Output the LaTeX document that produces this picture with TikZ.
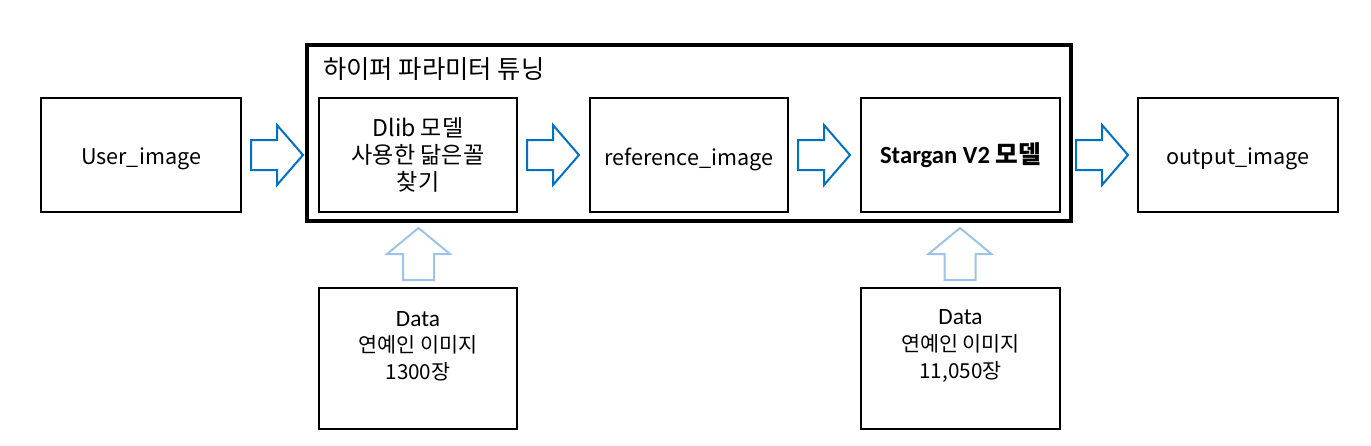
\documentclass[tikz,border=0pt]{standalone}
\usepackage{fontspec}
\setmainfont{Noto Sans CJK KR}
\newfontfamily\calfont{Carlito}
\definecolor{rblue}{HTML}{0070C0}
\definecolor{lblue}{HTML}{9DC3E6}
\newcommand{\lowr}[2]{\raisebox{-#1}[\height][\depth]{#2}}
\begin{document}
\begin{tikzpicture}[x=0.75pt,y=-0.75pt,
  box/.style={draw=black,line width=1.1pt,rectangle,inner sep=0pt,align=center,
    minimum width=148.5pt,minimum height=85.5pt},
  big/.style={font=\fontsize{16.2pt}{22pt}\selectfont},
  mid/.style={font=\fontsize{17.3pt}{21.4pt}\selectfont},
  dat/.style={font=\fontsize{15.5pt}{20pt}\selectfont,align=center,inner sep=0pt},
  rarr/.pic={\draw[rblue,line width=1.5pt,fill=white,line join=miter]
     (0,-15)--(26,-15)--(26,-30)--(52,0)--(26,30)--(26,15)--(0,15)--cycle;},
  uarr/.pic={\draw[lblue,line width=1.5pt,fill=white,line join=miter]
     (-15.5,0)--(-15.5,-26)--(-31.5,-26)--(0,-52)--(31.5,-26)--(15.5,-26)--(15.5,0)--cycle;}
]
\useasboundingbox (0,0) rectangle (1371,446);
\node[draw=black,line width=3pt,minimum width=573pt,minimum height=132pt,inner sep=0pt] (tune) at (689,133) {};
\node[anchor=west,font=\fontsize{19pt}{22pt}\selectfont,inner sep=0pt] (title) at (323,69) {하이퍼 파라미터 튜닝};
\node[box,big,minimum width=150pt] (user) at (141,155) {\lowr{3pt}{User\_image}};
\node[box,mid] (dlib) at (418,155) {\lowr{2pt}{\begin{tabular}{@{}c@{}}Dlib 모델\\[-1pt]사용한 닮은꼴\\[-1pt]찾기\end{tabular}}};
\node[box,big] (ref) at (689,155) {\lowr{3pt}{reference\_image}};
\node[box,font=\fontsize{18.5pt}{22pt}\selectfont,minimum width=149.25pt] (star) at (960.5,155) {{\calfont\bfseries Stargan V2} \bfseries 모델};
\node[box,big,minimum width=150pt] (out) at (1238,155) {\lowr{3pt}{output\_image}};
\node[box,minimum height=105.75pt] (data1) at (418,358.5) {};
\node[box,minimum width=149.25pt,minimum height=105.75pt] (data2) at (960.5,358.5) {};
\node[dat] (data1t) at (418,346) {{\calfont\fontsize{17.5pt}{20pt}\selectfont Data}\\연예인 이미지\\1300장};
\node[dat] (data2t) at (960.5,346) {{\calfont\fontsize{17.5pt}{20pt}\selectfont Data}\\연예인 이미지\\11,050장};
\coordinate (a1) at (251,155);
\coordinate (a2) at (527,155);
\coordinate (a3) at (798,155);
\coordinate (a4) at (1076,155);
\coordinate (u1) at (418.5,280);
\coordinate (u2) at (960,280);
\pic at (a1) {rarr};
\pic at (a2) {rarr};
\pic at (a3) {rarr};
\pic at (a4) {rarr};
\pic at (u1) {uarr};
\pic at (u2) {uarr};
\end{tikzpicture}
\end{document}
